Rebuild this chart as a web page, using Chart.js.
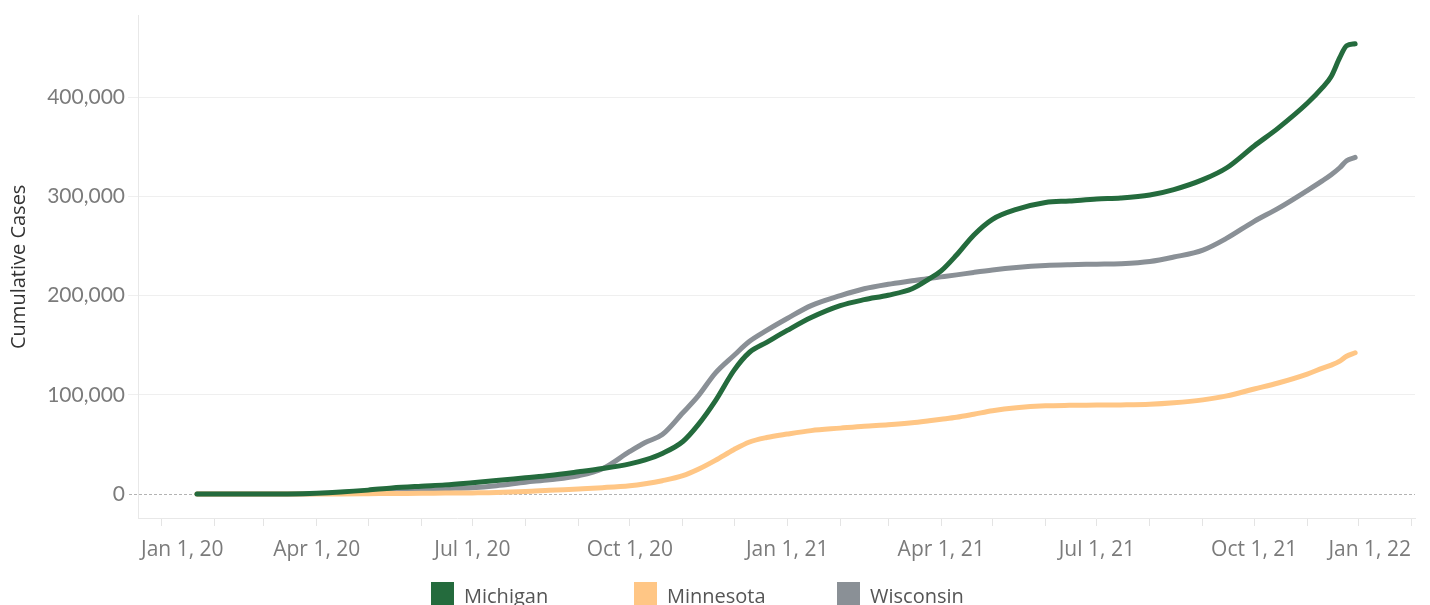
<!DOCTYPE html>
<html>
<head>
<meta charset="utf-8">
<title>Cumulative Cases</title>
<script src="https://cdn.jsdelivr.net/npm/chart.js@4.4.1/dist/chart.umd.min.js"></script>
<style>
  html, body { margin: 0; padding: 0; background: #fff; }
  #wrap { position: relative; width: 1430px; height: 605px; overflow: hidden; }
  #chart { position: absolute; left: 0; top: 0; }
  #legend { position: absolute; left: 431px; top: 582px; display: flex; font: 20px "Open Sans", sans-serif; color: #555; }
  #legend .item { width: 203px; display: flex; align-items: flex-start; }
  #legend .swatch { width: 23px; height: 23px; margin-right: 10px; flex: none; }
  #legend .name { line-height: 23px; margin-top: 2px; }
</style>
</head>
<body>
<div id="wrap">
  <canvas id="chart" width="1430" height="605"></canvas>
  <div id="legend"></div>
</div>
<script>
// ---- Data ------------------------------------------------------------------
const dates = [
  "2020-01-22", "2020-02-15", "2020-03-01", "2020-03-15", "2020-04-01", "2020-04-15",
  "2020-05-01", "2020-05-15", "2020-06-01", "2020-06-15", "2020-07-01", "2020-07-15",
  "2020-08-01", "2020-08-15", "2020-09-01", "2020-09-15", "2020-10-01", "2020-10-10",
  "2020-10-20", "2020-11-01", "2020-11-10", "2020-11-20", "2020-12-01", "2020-12-10",
  "2020-12-20", "2021-01-01", "2021-01-15", "2021-02-01", "2021-02-15", "2021-03-01",
  "2021-03-15", "2021-03-25", "2021-04-01", "2021-04-10", "2021-04-20", "2021-05-01",
  "2021-05-15", "2021-06-01", "2021-06-15", "2021-07-01", "2021-07-15", "2021-08-01",
  "2021-08-15", "2021-09-01", "2021-09-15", "2021-10-01", "2021-10-15", "2021-11-01",
  "2021-11-10", "2021-11-15", "2021-11-20", "2021-11-24", "2021-11-29"
];

const michigan = [
  0, 0, 0, 100, 800, 2000,
  4000, 6200, 8000, 9300, 11500, 13600,
  16500, 18800, 22500, 25800, 30500, 34500,
  41000, 53000, 70000, 94000, 125000, 143000,
  153000, 165000, 178000, 190000, 196000, 200500,
  207000, 217000, 225000, 241000, 261000, 277000,
  287000, 294000, 295500, 297500, 298500, 301500,
  307000, 317000, 329000, 351000, 369000, 394000,
  410000, 421000, 440000, 452000, 454000
];

const minnesota = [
  0, 0, 0, 0, 100, 200,
  400, 600, 800, 1000, 1200, 1500,
  2500, 3800, 5200, 6500, 8500, 10500,
  13500, 18500, 25000, 34000, 45000, 52500,
  57000, 60500, 64000, 66500, 68500, 70000,
  72000, 74000, 75500, 77500, 80500, 84000,
  87000, 89000, 89500, 89700, 89900, 90500,
  92000, 95000, 99000, 106000, 112000, 121000,
  127000, 130000, 134000, 139000, 142500
];

const wisconsin = [
  0, 0, 0, 50, 500, 1500,
  2500, 3500, 4500, 5500, 6500, 8500,
  12000, 14500, 18500, 25500, 43000, 52000,
  60000, 82000, 99000, 122000, 140000, 154000,
  165000, 177000, 190000, 200000, 207000, 211500,
  215000, 217500, 219000, 221000, 223500, 226000,
  228500, 230500, 231300, 231800, 232300, 234500,
  239000, 246000, 258000, 275000, 288000, 306000,
  316000, 322000, 329000, 336000, 339500
];

const seriesNames = ["Michigan", "Minnesota", "Wisconsin"];
const seriesColors = ["#246b3d", "#ffc685", "#8a9096"];

const labelDates = [
  "2020-01-01", "2020-04-01", "2020-07-01", "2020-10-01", "2021-01-01",
  "2021-04-01", "2021-07-01", "2021-10-01", "2022-01-01"
];
const tickLabels = [
  "Jan 1, 20", "Apr 1, 20", "Jul 1, 20", "Oct 1, 20", "Jan 1, 21",
  "Apr 1, 21", "Jul 1, 21", "Oct 1, 21", "Jan 1, 22"
];
const yTicks = [0, 100000, 200000, 300000, 400000];

// ---- Helpers ---------------------------------------------------------------
const DAY0 = Date.parse("2020-01-01");
const dayOf = (s) => (Date.parse(s) - DAY0) / 864e5;

// month starts for the small tick marks
const monthDays = [];
for (let y = 2020; y <= 2022; y++) {
  for (let m = 0; m < 12; m++) {
    const d = (Date.UTC(y, m, 1) - DAY0) / 864e5;
    if (d <= 731) monthDays.push(d);
  }
}

const toPoints = (vals) => dates.map((d, i) => ({ x: dayOf(d), y: vals[i] }));
const seriesValues = [michigan, minnesota, wisconsin];

// ---- Legend (html) ---------------------------------------------------------
const legendEl = document.getElementById("legend");
seriesNames.forEach((n, i) => {
  const it = document.createElement("div");
  it.className = "item";
  it.innerHTML = `<span class="swatch" style="background:${seriesColors[i]}"></span><span class="name">${n}</span>`;
  legendEl.appendChild(it);
});

// ---- Plugins ---------------------------------------------------------------
// dashed zero line, drawn under the lines
const zeroLine = {
  id: "zeroLine",
  beforeDatasetsDraw(chart) {
    const { ctx, chartArea, scales: { y } } = chart;
    const py = Math.round(y.getPixelForValue(0)) + 0.5;
    ctx.save();
    ctx.strokeStyle = "#b3b3b3";
    ctx.lineWidth = 1;
    ctx.setLineDash([3, 2]);
    ctx.beginPath();
    ctx.moveTo(chartArea.left - 9, py);
    ctx.lineTo(chartArea.right, py);
    ctx.stroke();
    ctx.restore();
  }
};

// date labels, kept inside the plot area like Tableau does
const xLabels = {
  id: "xLabels",
  afterDraw(chart) {
    const { ctx, chartArea, scales: { x } } = chart;
    ctx.save();
    ctx.font = '21px "Open Sans"';
    ctx.fillStyle = "#7b7b7b";
    ctx.textBaseline = "alphabetic";
    labelDates.forEach((d, i) => {
      const w = ctx.measureText(tickLabels[i]).width;
      let left = x.getPixelForValue(dayOf(d)) - w / 2;
      left = Math.max(chartArea.left + 3, Math.min(left, chartArea.right - w - 4));
      ctx.fillText(tickLabels[i], left, chartArea.bottom + 38);
    });
    ctx.restore();
  }
};

// ---- Chart -----------------------------------------------------------------
new Chart(document.getElementById("chart"), {
  type: "line",
  data: {
    datasets: seriesNames.map((n, i) => ({
      label: n,
      data: toPoints(seriesValues[i]),
      borderColor: seriesColors[i],
      backgroundColor: seriesColors[i],
      borderWidth: 5,
      pointRadius: 0,
      cubicInterpolationMode: "monotone",
      borderCapStyle: "round",
      borderJoinStyle: "round"
    }))
  },
  options: {
    responsive: false,
    animation: false,
    layout: { padding: { top: 14, right: 15, left: 0, bottom: 0 } },
    plugins: { legend: { display: false }, tooltip: { enabled: false } },
    scales: {
      x: {
        type: "linear",
        min: -13.5,
        max: 733,
        afterBuildTicks: (s) => { s.ticks = monthDays.map(v => ({ value: v })); },
        afterFit: (s) => { s.height = 87; },
        ticks: { display: false },
        grid: { drawOnChartArea: false, drawTicks: true, tickLength: 8, tickColor: "#e4e4e4" },
        border: { display: true, color: "#e8e8e8" }
      },
      y: {
        min: -24100,
        max: 482400,
        afterBuildTicks: (s) => { s.ticks = yTicks.map(v => ({ value: v })); },
        afterFit: (s) => { s.width = 138; },
        ticks: {
          color: "#7b7b7b",
          font: { family: "Lato", size: 21 },
          padding: 3,
          callback: (v) => v.toLocaleString("en-US")
        },
        grid: {
          color: (c) => (c.tick && c.tick.value === 0 ? "rgba(0,0,0,0)" : "#efefef"),
          tickLength: 10
        },
        border: { display: true, color: "#e8e8e8" },
        title: {
          display: true,
          text: "Cumulative Cases",
          color: "#333",
          font: { family: "Open Sans", size: 20 },
          padding: { top: 7, bottom: 0 }
        }
      }
    }
  },
  plugins: [zeroLine, xLabels]
});
</script>
</body>
</html>
